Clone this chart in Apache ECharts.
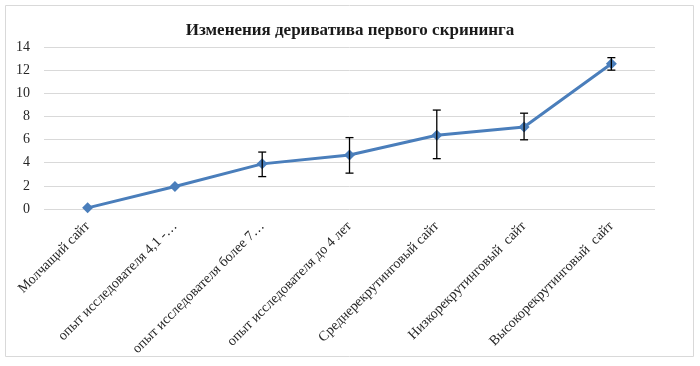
<!DOCTYPE html>
<html><head><meta charset="utf-8">
<script src="https://cdn.jsdelivr.net/npm/echarts@6/dist/echarts.min.js"></script>
<style>html,body{margin:0;padding:0;background:#fff}#c{width:700px;height:366px}</style>
</head><body><div id="c"></div>
<script>
const categories = ["Молчащий сайт","опыт исследователя 4,1 -…","опыт исследователя более 7…","опыт исследователя до 4 лет","Среднерекрутинговый сайт","Низкорекрутинговый  сайт","Высокорекрутинговый  сайт"];
const values = [0.1, 1.95, 3.9, 4.67, 6.38, 7.08, 12.55];
const errLow = [null, null, 2.8, 3.1, 4.35, 5.98, 12.0];
const errHigh = [null, null, 4.92, 6.17, 8.55, 8.28, 13.08];
const yTicks = [0, 2, 4, 6, 8, 10, 12, 14];

const errData = [];
categories.forEach((c, i) => { if (errLow[i] != null) errData.push([i, errLow[i], errHigh[i]]); });

const chart = echarts.init(document.getElementById('c'));
chart.setOption({
  animation: false,
  title: { text: 'Изменения дериватива первого скрининга', left: 'center', top: 17,
    textStyle: { fontFamily: 'Liberation Serif', fontWeight: 'bold', fontSize: 17, color: '#1a1a1a' } },
  graphic: [{ type: 'rect', shape: { x: 5.5, y: 5.5, width: 688, height: 351 }, style: { fill: 'none', stroke: '#d9d9d9', lineWidth: 1 }, z: -1 }],
  grid: { left: 44, right: 45, top: 47, bottom: 157 },
  xAxis: { type: 'category', data: categories, boundaryGap: true,
    axisLine: { show: false }, axisTick: { show: false },
    axisLabel: { rotate: 45, interval: 0, margin: 15, fontFamily: 'Liberation Serif', fontSize: 14, color: '#262626' } },
  yAxis: { type: 'value', min: yTicks[0], max: yTicks[yTicks.length - 1], interval: 2,
    axisLine: { show: false }, axisTick: { show: false },
    axisLabel: { fontFamily: 'Liberation Serif', fontSize: 14, color: '#262626', margin: 14 },
    splitLine: { lineStyle: { color: '#d9d9d9', width: 1 } } },
  series: [
    { type: 'line', data: values, symbol: 'diamond', symbolSize: 11,
      lineStyle: { color: '#4a7ebb', width: 3 }, itemStyle: { color: '#4a7ebb' }, z: 3 },
    { type: 'custom', data: errData, encode: { x: 0, y: [1, 2] }, z: 4,
      renderItem: function (params, api) {
        const lo = api.coord([api.value(0), api.value(1)]);
        const hi = api.coord([api.value(0), api.value(2)]);
        const w = 4;
        const st = { stroke: '#000', lineWidth: 1.3 };
        return { type: 'group', children: [
          { type: 'line', shape: { x1: lo[0], y1: lo[1], x2: hi[0], y2: hi[1] }, style: st },
          { type: 'line', shape: { x1: lo[0] - w, y1: lo[1], x2: lo[0] + w, y2: lo[1] }, style: st },
          { type: 'line', shape: { x1: hi[0] - w, y1: hi[1], x2: hi[0] + w, y2: hi[1] }, style: st }
        ] };
      } }
  ]
});
</script></body></html>
